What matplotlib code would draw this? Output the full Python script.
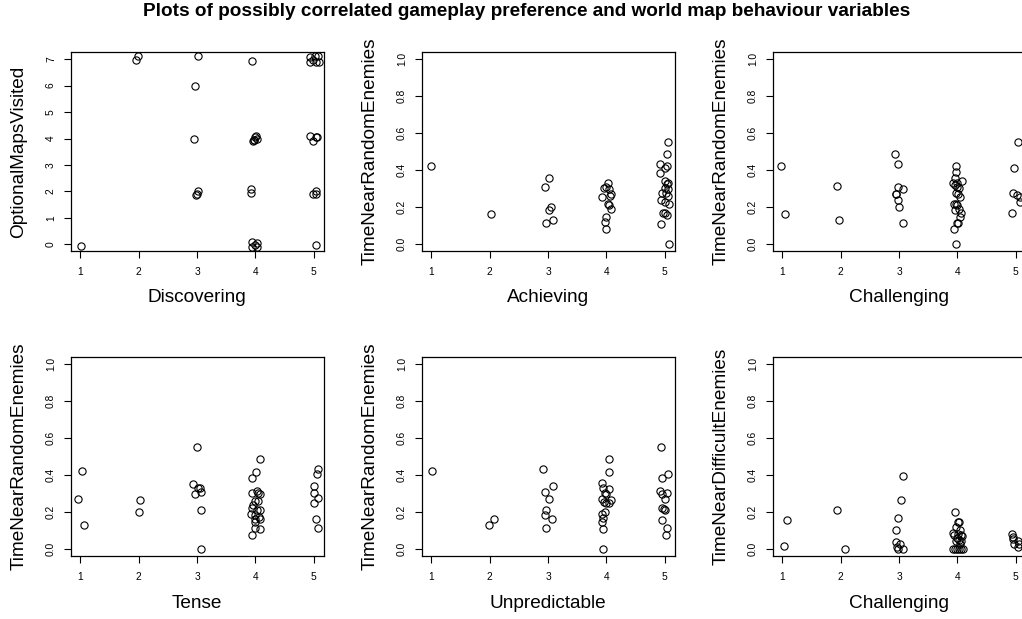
import matplotlib
matplotlib.use("Agg")
import matplotlib.pyplot as plt

plt.rcParams["font.family"] = ["Liberation Sans", "DejaVu Sans"]

# survey answers (1-5 Likert, jittered) against world map behaviour
discovering = [1.02, 1.95, 1.99, 2.94, 2.97, 3.01, 2.99, 3.00, 3.02, 3.95, 3.96, 3.98, 4.00,
               4.01, 4.02, 3.97, 3.92, 3.93, 3.94, 3.95, 4.03, 4.02, 3.99, 4.94, 5.02, 5.08,
               4.99, 4.93, 5.03, 5.09, 4.94, 4.98, 5.03, 5.05, 5.03, 4.98, 5.04, 5.03]
optional_maps = [-0.06, 6.97, 7.11, 3.99, 6.00, 7.10, 1.88, 1.90, 2.03, 6.93, 3.90, 3.95, 4.05,
                 4.08, 4.00, 3.93, 2.08, 1.93, 0.10, -0.09, 0.04, -0.11, -0.03, 7.09, 7.13, 7.13,
                 6.98, 6.88, 6.88, 6.88, 4.10, 3.92, 4.05, 4.06, 2.03, 1.91, 1.92, -0.01]

achieving = [1.00, 2.02, 2.94, 3.02, 3.05, 3.01, 3.08, 2.97,
             3.93, 3.96, 4.00, 4.03, 4.04, 4.07, 4.06, 4.03, 4.05, 4.07, 3.99, 3.97, 3.99,
             5.05, 5.03, 5.04, 4.92, 4.91, 5.00, 5.00, 5.04, 5.05, 5.00, 5.06, 4.95, 5.02,
             5.06, 4.94, 5.01, 5.07, 4.97, 5.00, 5.04, 4.94, 5.08]
random_ach = [0.424, 0.161, 0.305, 0.356, 0.200, 0.180, 0.128, 0.114,
              0.255, 0.300, 0.310, 0.330, 0.298, 0.267, 0.260, 0.213, 0.211, 0.188, 0.146, 0.116, 0.078,
              0.554, 0.486, 0.420, 0.433, 0.386, 0.408, 0.339, 0.321, 0.327, 0.301, 0.294, 0.273, 0.273,
              0.256, 0.238, 0.224, 0.217, 0.164, 0.166, 0.157, 0.108, 0.000]

challenging = [0.98, 1.04, 1.94, 1.97,
               2.93, 2.98, 2.98, 3.06, 2.94, 2.95, 2.98, 3.00, 3.07,
               3.97, 3.97, 3.96, 3.93, 3.96, 4.00, 4.03, 4.07, 3.99, 4.01, 4.05, 3.95, 3.98,
               4.00, 3.96, 4.03, 4.06, 4.05, 4.01, 3.99, 3.94, 3.97, 3.97,
               5.04, 4.97, 4.96, 5.02, 5.07, 5.07, 4.94]
random_chal = [0.422, 0.161, 0.314, 0.128,
               0.486, 0.433, 0.305, 0.296, 0.269, 0.267, 0.238, 0.200, 0.114,
               0.422, 0.388, 0.357, 0.327, 0.316, 0.310, 0.300, 0.339, 0.330, 0.270, 0.255, 0.215, 0.215,
               0.211, 0.184, 0.186, 0.164, 0.144, 0.114, 0.110, 0.078, 0.000, 0.274,
               0.554, 0.408, 0.276, 0.264, 0.251, 0.224, 0.168]

tense = [1.03, 0.96, 1.07, 2.03, 2.00,
         3.00, 2.93, 3.02, 3.05, 3.07, 2.96, 3.07, 3.06,
         4.07, 4.01, 3.95, 3.94, 4.02, 4.08, 4.04, 4.05, 3.99, 3.96, 3.94, 4.02, 4.08,
         3.93, 3.99, 4.06, 4.08, 4.00, 3.99, 4.07, 3.99, 3.95,
         5.08, 5.06, 5.00, 5.00, 5.08, 5.01, 5.03, 5.07]
random_tense = [0.422, 0.270, 0.126, 0.265, 0.200,
                0.553, 0.353, 0.330, 0.328, 0.308, 0.295, 0.211, 0.000,
                0.485, 0.418, 0.386, 0.303, 0.312, 0.297, 0.300, 0.259, 0.256, 0.238, 0.222, 0.211, 0.211,
                0.187, 0.180, 0.171, 0.162, 0.160, 0.144, 0.108, 0.112, 0.076,
                0.432, 0.405, 0.339, 0.303, 0.276, 0.249, 0.160, 0.112]

unpredictable = [1.02, 1.99, 2.08,
                 2.92, 3.08, 2.95, 3.01, 2.96, 2.94, 3.07, 2.97,
                 4.04, 4.05, 3.92, 3.95, 4.04, 3.97, 4.00, 3.92, 4.07, 3.96, 4.00, 4.04, 3.97,
                 3.92, 3.94, 3.93, 3.95, 3.95,
                 4.93, 4.95, 5.06, 4.92, 4.95, 5.03, 5.00, 4.96, 4.98, 5.00, 4.95, 5.03, 5.02]
random_unpred = [0.422, 0.126, 0.160,
                 0.431, 0.339, 0.308, 0.270, 0.211, 0.180, 0.159, 0.112,
                 0.485, 0.418, 0.355, 0.328, 0.323, 0.303, 0.295, 0.270, 0.265, 0.254, 0.245, 0.250, 0.198,
                 0.187, 0.168, 0.146, 0.106, 0.000,
                 0.553, 0.386, 0.405, 0.312, 0.295, 0.303, 0.272, 0.220, 0.215, 0.211, 0.157, 0.112, 0.076]

challenging_2 = [1.03, 1.08, 1.94, 2.08,
                 3.06, 3.04, 2.99, 2.95, 2.94, 3.01, 2.96, 2.99, 3.06,
                 3.96, 4.01, 4.03, 3.98, 4.04, 3.93, 3.94, 4.01, 4.06, 4.08, 4.00, 4.03, 3.98,
                 4.06, 4.04, 3.93, 3.96, 3.99, 4.03, 4.06, 4.10,
                 4.94, 4.95, 4.95, 4.97, 5.04, 5.05, 5.04]
difficult_chal = [0.016, 0.155, 0.211, 0.000,
                  0.393, 0.263, 0.164, 0.101, 0.034, 0.027, 0.007, 0.000, 0.000,
                  0.200, 0.146, 0.146, 0.120, 0.103, 0.083, 0.076, 0.080, 0.074, 0.067, 0.058, 0.049, 0.040,
                  0.040, 0.027, 0.000, 0.000, 0.000, 0.000, 0.000, 0.000,
                  0.079, 0.065, 0.054, 0.027, 0.040, 0.027, 0.009]

panels = [
    (discovering, optional_maps, "Discovering", "OptionalMapsVisited"),
    (achieving, random_ach, "Achieving", "TimeNearRandomEnemies"),
    (challenging, random_chal, "Challenging", "TimeNearRandomEnemies"),
    (tense, random_tense, "Tense", "TimeNearRandomEnemies"),
    (unpredictable, random_unpred, "Unpredictable", "TimeNearRandomEnemies"),
    (challenging_2, difficult_chal, "Challenging", "TimeNearDifficultEnemies"),
]

W, H = 1022, 619
fig = plt.figure(figsize=(W / 100, H / 100), dpi=100)

lefts = [70.7, 421.7, 772.7]
bottoms = [251, 556]
pw, ph = 253, 199
px = 0.72  # points per pixel at 100 dpi

for i, (x, y, xlab, ylab) in enumerate(panels):
    row, col = divmod(i, 3)
    ax = fig.add_axes([lefts[col] / W, 1 - bottoms[row] / H, pw / W, ph / H])
    ax.plot(x, y, linestyle="none", marker="o", markersize=5.2, markerfacecolor="none",
            markeredgecolor="black", markeredgewidth=0.8)
    ax.set_xlim(0.835, 5.17)
    ax.set_xticks([1, 2, 3, 4, 5])
    if i == 0:
        ax.set_ylim(-0.25, 7.27)
        yt = list(range(8))
        ax.set_yticks(yt)
        ax.set_yticklabels([str(v) for v in yt], rotation=90, va="center")
    else:
        ax.set_ylim(-0.04, 1.04)
        yt = [0.0, 0.2, 0.4, 0.6, 0.8, 1.0]
        ax.set_yticks(yt)
        ax.set_yticklabels([f"{v:.1f}" for v in yt], rotation=90, va="center")
    ax.tick_params(direction="out", length=4.8, width=0.8, labelsize=7.4, color="black")
    ax.tick_params(axis="x", pad=6.4)
    ax.tick_params(axis="y", pad=5.8)
    for s in ax.spines.values():
        s.set_linewidth(0.9)
    ax.annotate(xlab, xy=(0.5, 0), xycoords="axes fraction", xytext=(0, -47 * px),
                textcoords="offset points", ha="center", va="center", fontsize=13.7)
    ax.annotate(ylab, xy=(0, 0.5), xycoords="axes fraction", xytext=(-52 * px, 0),
                textcoords="offset points", ha="center", va="center", fontsize=13.7,
                rotation=90)

fig.text(526.5 / W, 1 - 12 / H,
         "Plots of possibly correlated gameplay preference and world map behaviour variables",
         ha="center", va="center", fontsize=13.7, fontweight="bold")

fig.savefig("out.png", dpi=100)
